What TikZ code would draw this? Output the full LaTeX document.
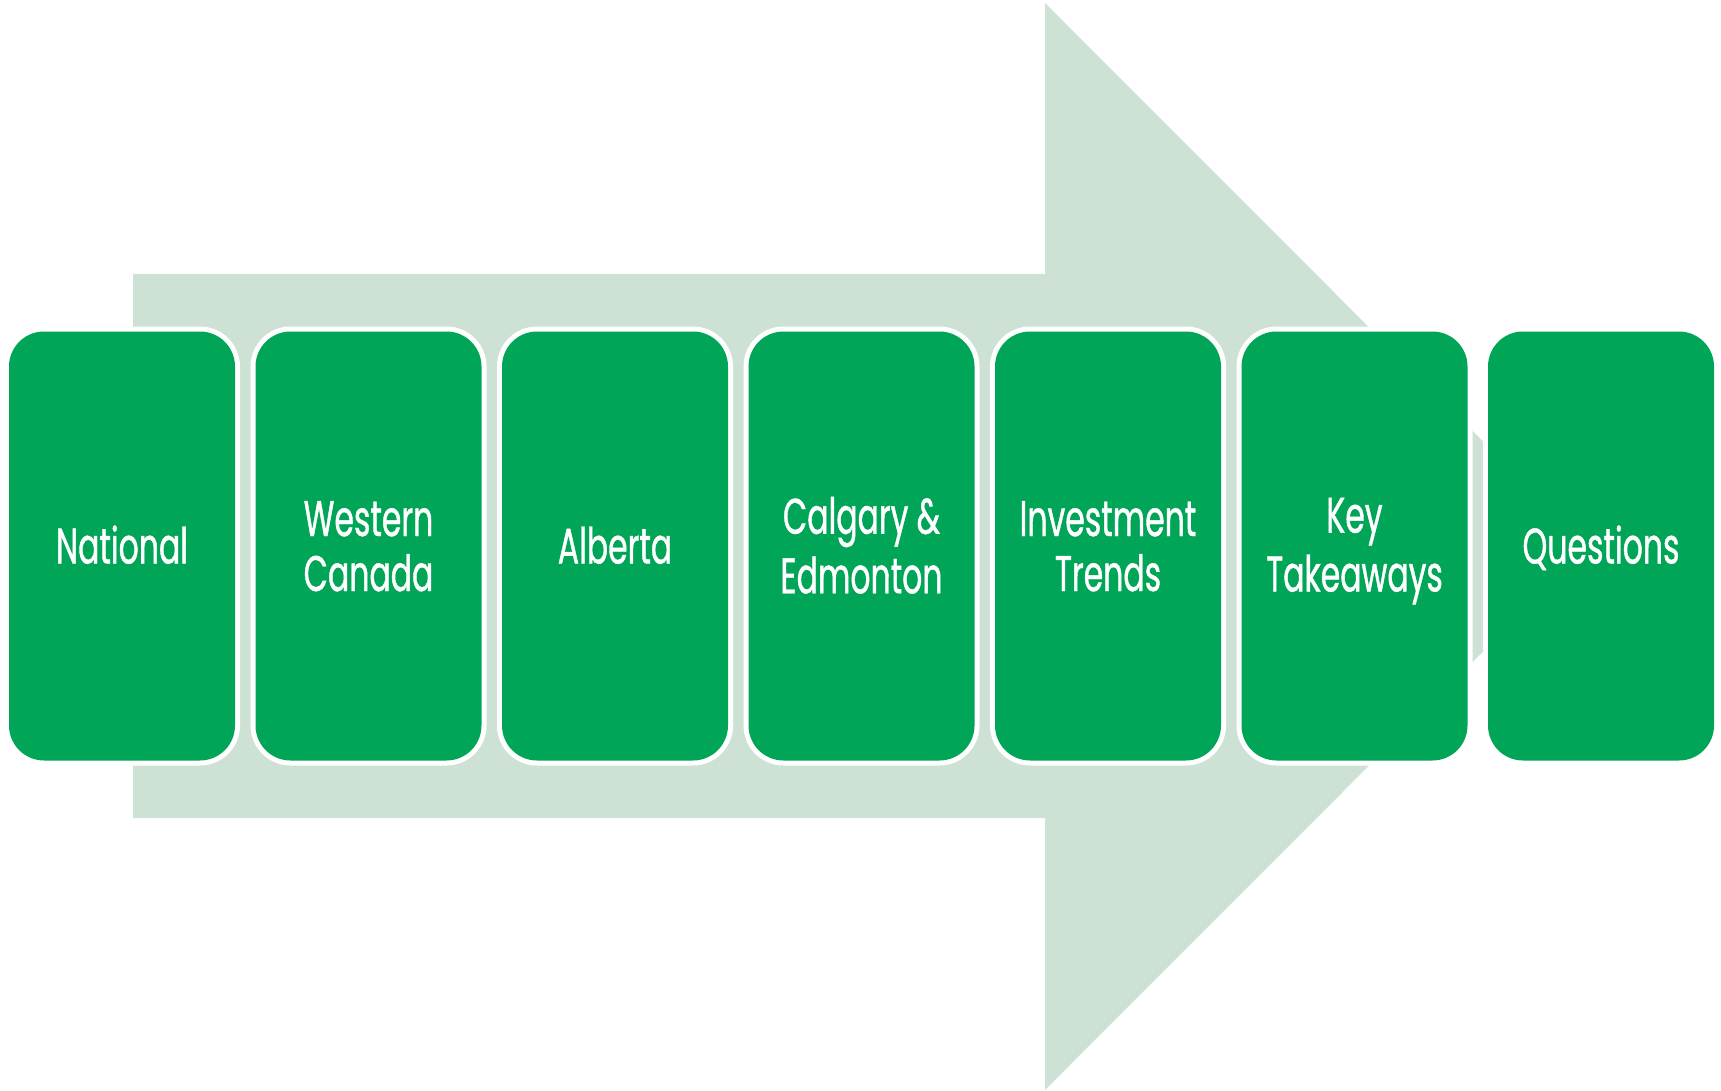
\documentclass[tikz,border=0pt]{standalone}
\usepackage{fontspec}
\setmainfont{Poppins}[FakeStretch=0.63, FakeBold=0.8]
\definecolor{stepgreen}{RGB}{0,165,87}
\definecolor{arrowpale}{RGB}{205,226,212}
% strut centred on the cap height, one line tall
\newcommand{\capstrut}{\rule[-10pt]{0pt}{55pt}}
\begin{document}
\begin{tikzpicture}[x=1pt,y=-1pt,
  stepbox/.style={rectangle, rounded corners=35pt, minimum width=226pt,
    minimum height=429pt, inner sep=0pt, fill=stepgreen,
    preaction={draw=white, line width=10pt},
    text=white, align=center,
    font=\fontsize{50}{55}\selectfont}]
\useasboundingbox (0,0) rectangle (1721,1091);
% background arrow
\fill[arrowpale] (133,274) -- (1045,274) -- (1045,3) -- (1588,546.5)
  -- (1045,1090) -- (1045,818) -- (133,818) -- cycle;
% steps
\node[stepbox] (national) at (122,546) {\capstrut National};
\node[stepbox] (western) at (368.5,546) {\capstrut Western\\\capstrut Canada};
\node[stepbox] (alberta) at (615,546) {\capstrut Alberta};
\node[stepbox] (cities) at (861.5,546) {\capstrut Calgary \&\\\capstrut Edmonton};
\node[stepbox] (trends) at (1108,546) {\capstrut Investment\\\capstrut Trends};
\node[stepbox] (takeaways) at (1354.5,546) {\capstrut Key\\\capstrut Takeaways};
\node[stepbox] (questions) at (1601,546) {\capstrut Questions};
\end{tikzpicture}
\end{document}
